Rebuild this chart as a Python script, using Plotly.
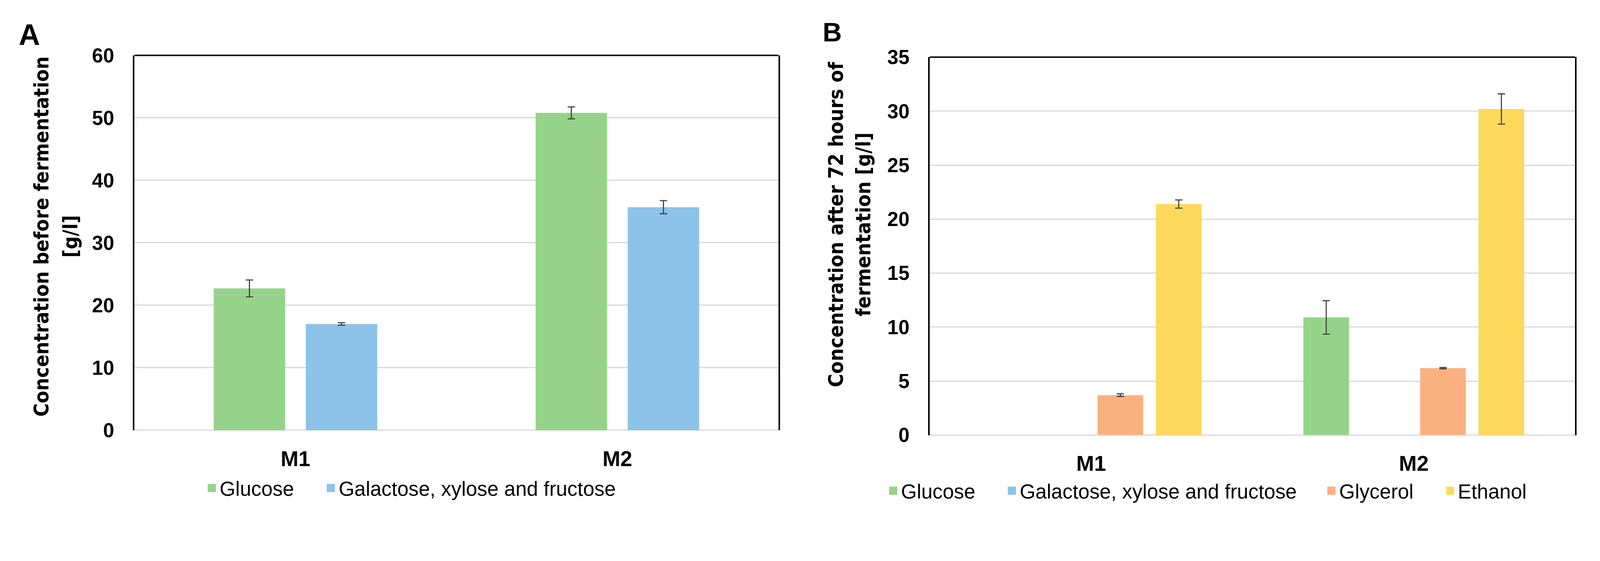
import plotly.graph_objects as go

# ---------------- data ----------------
categories = ["M1", "M2"]

# Panel A: before fermentation [g/l]
a_glucose = [22.7, 50.8]
a_glucose_err = [1.35, 0.95]
a_sugars = [17.0, 35.7]
a_sugars_err = [0.2, 1.05]

# Panel B: after 72 h of fermentation [g/l]  (None = no bar shown)
b_glucose = [None, 10.9]
b_glucose_err = [None, 1.55]
b_sugars = [None, None]
b_sugars_err = [None, None]
b_glycerol = [3.7, 6.2]
b_glycerol_err = [0.12, 0.06]
b_ethanol = [21.4, 30.2]
b_ethanol_err = [0.38, 1.4]

series_names = ["Glucose", "Galactose, xylose and fructose", "Glycerol", "Ethanol"]
a_ticks = [0, 10, 20, 30, 40, 50, 60]
b_ticks = [0, 5, 10, 15, 20, 25, 30, 35]
a_title = ["Concentration before fermentation", "[g/l]"]
b_title = ["Concentration after 72 hours of", "fermentation [g/l]"]

# ---------------- style ----------------
REF_W, REF_H = 4351, 1437
S = 1 / 1.06            # page renders css px slightly enlarged; keep figure inside the window
W, H = round(REF_W * S), round(REF_H * S)


def px(v):
    return v * S


colors = {"Glucose": "#96D38A", "Galactose, xylose and fructose": "#8DC3E8",
          "Glycerol": "#FBB07F", "Ethanol": "#FED95C"}
ERR_COLOR = "#404040"
GRID = "#D9D9D9"
SANS = "Liberation Sans, Arial, sans-serif"
TITLE_FONT = "DejaVu Sans Condensed, DejaVu Sans, Verdana, sans-serif"

# plot areas in reference pixels (left, right, top, bottom)
A_BOX = (365, 2112, 126, 1188)
B_BOX = (2523, 4274, 131, 1202)


def dom_x(box):
    return [box[0] / REF_W, box[1] / REF_W]


def dom_y(box):
    return [1 - box[3] / REF_H, 1 - box[2] / REF_H]


def group_offsets(n, slot, width):
    return [(k - (n - 1) / 2) * slot - width / 2 for k in range(n)]


fig = go.Figure()
err_style = dict(type="data", visible=True, color=ERR_COLOR, thickness=px(3), width=px(10))


def add_legend_key(name, xa, ya, legend_id):
    # legend-only key (square swatch like the original); draws no mark
    fig.add_trace(go.Scatter(
        x=[None], y=[None], mode="markers", name=name, xaxis=xa, yaxis=ya,
        marker=dict(symbol="square", size=16, color=colors[name],
                    line=dict(color=colors[name], width=5)),
        legend=legend_id, hoverinfo="skip",
    ))


# Panel A bars
A_SLOT, A_W = 0.286, 0.222
a_off = group_offsets(2, A_SLOT, A_W)
a_series = [(series_names[0], a_glucose, a_glucose_err),
            (series_names[1], a_sugars, a_sugars_err)]
a_legends = ["legend", "legend2"]
for k, (name, vals, errs) in enumerate(a_series):
    fig.add_trace(go.Bar(
        x=categories, y=vals, name=name, xaxis="x", yaxis="y",
        width=A_W, offset=a_off[k], marker=dict(color=colors[name], line=dict(width=0)),
        error_y=dict(array=errs, **err_style), showlegend=False,
    ))
    add_legend_key(name, "x", "y", a_legends[k])

# Panel B bars
B_SLOT, B_W = 0.181, 0.1416
b_off = group_offsets(4, B_SLOT, B_W)
b_series = [(series_names[0], b_glucose, b_glucose_err),
            (series_names[1], b_sugars, b_sugars_err),
            (series_names[2], b_glycerol, b_glycerol_err),
            (series_names[3], b_ethanol, b_ethanol_err)]
b_legends = ["legend3", "legend4", "legend5", "legend6"]
for k, (name, vals, errs) in enumerate(b_series):
    fig.add_trace(go.Bar(
        x=categories, y=vals, name=name, xaxis="x2", yaxis="y2",
        width=B_W, offset=b_off[k], marker=dict(color=colors[name], line=dict(width=0)),
        error_y=dict(array=errs, **err_style), showlegend=False,
    ))
    add_legend_key(name, "x2", "y2", b_legends[k])

tick_font_y = dict(family=SANS, size=px(54), color="black", weight="bold")
tick_font_x = dict(family=SANS, size=px(58), color="black", weight="bold")
title_font = dict(family=TITLE_FONT, size=px(55), color="black", weight="bold")

common_x = dict(type="category", categoryorder="array", categoryarray=categories,
                range=[-0.5, 1.5], showgrid=False, showline=False,
                ticks="", zeroline=False, tickfont=tick_font_x,
                ticklabelstandoff=round(px(38)), fixedrange=True)
common_y = dict(showgrid=True, gridcolor=GRID, gridwidth=px(3), zeroline=True,
                zerolinecolor=GRID, zerolinewidth=px(3), showline=True, linecolor="black",
                linewidth=px(4), mirror=True, ticks="", tickfont=tick_font_y,
                ticklabelstandoff=round(px(40)), fixedrange=True)


def ann(text, x, y, font, angle=0):
    return dict(text=text, x=x / REF_W, y=1 - y / REF_H, xref="paper", yref="paper",
                showarrow=False, xanchor="center", yanchor="middle", textangle=angle,
                font=font)


annotations = [
    ann("<b>A</b>", 80, 67, dict(family=SANS, size=px(80), color="black")),
    ann("<b>B</b>", 2258, 60, dict(family=SANS, size=px(72), color="black")),
    # rotated axis titles (two centred lines each)
    ann(a_title[0], 112, 639, title_font, -90),
    ann(a_title[1], 190, 639, title_font, -90),
    ann(b_title[0], 2268, 605, title_font, -90),
    ann(b_title[1], 2342, 605, title_font, -90),
]

layout = dict(
    width=W, height=H, autosize=False,
    margin=dict(l=0, r=0, t=0, b=0),
    paper_bgcolor="white", plot_bgcolor="white",
    barmode="overlay",
    xaxis=dict(domain=dom_x(A_BOX), anchor="y", **common_x),
    yaxis=dict(domain=dom_y(A_BOX), anchor="x", range=[0, 60], tickvals=a_ticks, **common_y),
    xaxis2=dict(domain=dom_x(B_BOX), anchor="y2", **common_x),
    yaxis2=dict(domain=dom_y(B_BOX), anchor="x2", range=[0, 35], tickvals=b_ticks, **common_y),
    shapes=[
        dict(type="line", xref="x domain", yref="y domain", x0=0, x1=1, y0=1, y1=1,
             line=dict(color="black", width=px(4))),
        dict(type="line", xref="x2 domain", yref="y2 domain", x0=0, x1=1, y0=1, y1=1,
             line=dict(color="black", width=px(4))),
    ],
    annotations=annotations,
    showlegend=True,
)

legend_font = dict(family=SANS, size=px(55), color="black")
# text start positions (reference px) of each legend entry and vertical centres
legend_text_x = [596, 919, 2445, 2767, 3634, 3956]
legend_y = [1352, 1352, 1360, 1360, 1360, 1360]
legend_ids = a_legends + b_legends
TEXT_OFFSET = 40  # plotly's gap (css px) from legend entry start to its text
for lid, tx, ty in zip(legend_ids, legend_text_x, legend_y):
    layout[lid] = dict(orientation="h", x=(px(tx) - TEXT_OFFSET) / W, y=1 - ty / REF_H,
                       xanchor="left", yanchor="middle", font=legend_font,
                       bgcolor="rgba(0,0,0,0)", borderwidth=0)

fig.update_layout(**layout)
fig.write_html("out.html", config={"displayModeBar": False},
               post_script="document.body.style.margin='0px';")
